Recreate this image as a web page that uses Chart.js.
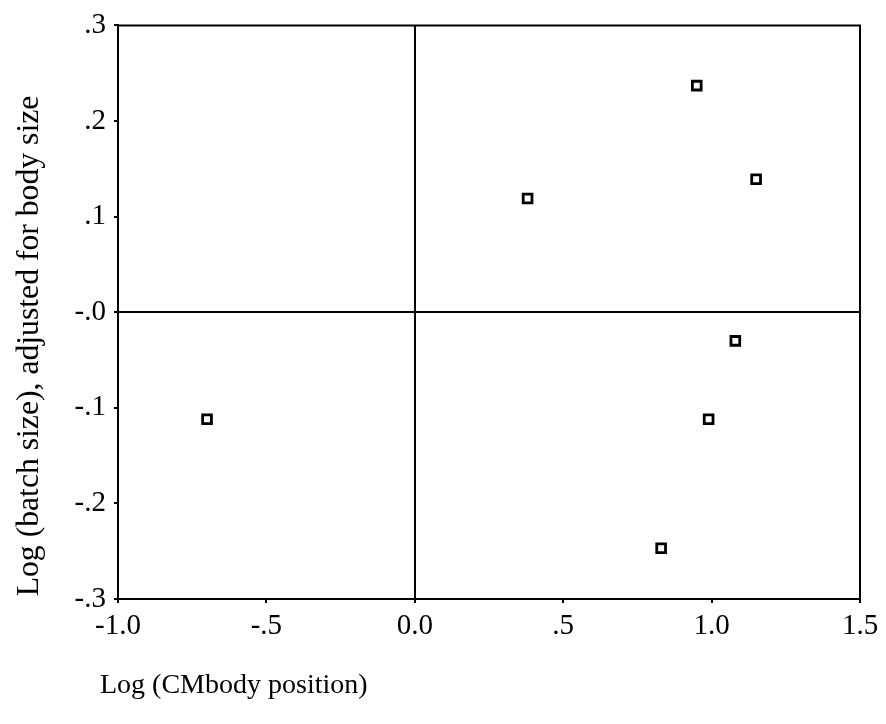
<!DOCTYPE html>
<html>
<head>
<meta charset="utf-8">
<script src="https://cdn.jsdelivr.net/npm/chart.js@4"></script>
<style>
  html, body { margin: 0; padding: 0; background: #fff; }
  #wrap { width: 886px; height: 724px; position: relative; }
</style>
</head>
<body>
<div id="wrap"><canvas id="scatter"></canvas></div>
<script>
// values
const cmBodyPos = [0.38, 0.95, 1.15, 1.08, 0.99, 0.83, -0.70];
const batchSize = [0.119, 0.237, 0.139, -0.030, -0.112, -0.247, -0.112];

const xTickLabels = ['-1.0', '-.5', '0.0', '.5', '1.0', '1.5'];
const yTickLabels = ['-.3', '-.2', '-.1', '-.0', '.1', '.2', '.3'];

const xTitle = 'Log (CMbody position)';
const yTitle = 'Log (batch size), adjusted for body size';

const serif = "'Liberation Serif', 'DejaVu Serif', serif";

// frame on top + right and the axis titles (placed like the original, not centered)
const framePlugin = {
    id: 'frame',
    afterDraw(chart) {
        const { ctx, chartArea: a } = chart;
        ctx.save();
        ctx.strokeStyle = '#000';
        ctx.lineWidth = 2;
        ctx.beginPath();
        ctx.moveTo(a.left, a.top);
        ctx.lineTo(a.right, a.top);
        ctx.lineTo(a.right, a.bottom);
        ctx.stroke();

        ctx.fillStyle = '#000';
        ctx.font = '28px ' + serif;
        ctx.textBaseline = 'middle';
        ctx.textAlign = 'left';
        ctx.fillText(xTitle, 100, 686);

        ctx.font = '31.7px ' + serif;
        ctx.translate(30, 346);
        ctx.rotate(-Math.PI / 2);
        ctx.textAlign = 'center';
        ctx.fillText(yTitle, 0, 0);
        ctx.restore();
    }
};

const ctx = document.getElementById('scatter').getContext('2d');
new Chart(ctx, {
    type: 'scatter',
    data: {
        datasets: [{
            data: cmBodyPos.map((x, i) => ({ x: x, y: batchSize[i] })),
            pointStyle: 'rect',
            pointRadius: 6.2,
            pointBackgroundColor: '#fff',
            pointBorderColor: '#000',
            pointBorderWidth: 2.8
        }]
    },
    options: {
        responsive: true,
        maintainAspectRatio: false,
        animation: false,
        layout: { padding: { left: 0, top: 25, right: 26, bottom: 75 } },
        plugins: { legend: { display: false }, tooltip: { enabled: false } },
        scales: {
            x: {
                type: 'linear',
                min: -1.0,
                max: 1.5,
                afterFit: s => { s.height = 50; },
                ticks: {
                    stepSize: 0.5,
                    color: '#000',
                    padding: 6,
                    maxRotation: 0,
                    font: { family: serif, size: 29 },
                    callback: (v) => xTickLabels[Math.round((v + 1.0) / 0.5)]
                },
                grid: {
                    color: c => (c.tick && c.tick.value === 0) ? '#000' : 'rgba(0,0,0,0)',
                    lineWidth: 2,
                    tickColor: '#000',
                    tickLength: 4,
                    tickWidth: 2
                },
                border: { display: true, color: '#000', width: 2 }
            },
            y: {
                type: 'linear',
                min: -0.3,
                max: 0.3,
                afterFit: s => { s.width = 118; },
                ticks: {
                    stepSize: 0.1,
                    color: '#000',
                    padding: 8,
                    font: { family: serif, size: 29 },
                    callback: (v) => yTickLabels[Math.round((v + 0.3) / 0.1)]
                },
                grid: {
                    color: c => (c.tick && Math.abs(c.tick.value) < 1e-9) ? '#000' : 'rgba(0,0,0,0)',
                    lineWidth: 2,
                    tickColor: '#000',
                    tickLength: 4,
                    tickWidth: 2
                },
                border: { display: true, color: '#000', width: 2 }
            }
        }
    },
    plugins: [framePlugin]
});
</script>
</body>
</html>
